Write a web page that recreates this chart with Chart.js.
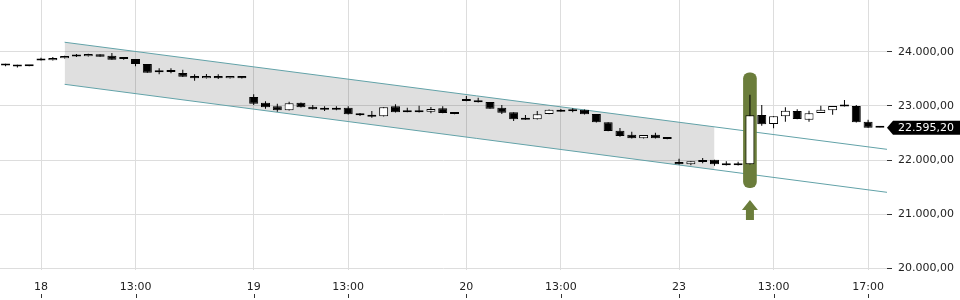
<!DOCTYPE html>
<html>
<head>
<meta charset="utf-8">
<script src="https://cdn.jsdelivr.net/npm/chart.js@4.4.0/dist/chart.umd.min.js"></script>
<style>
  html, body { margin: 0; padding: 0; background: #fff; }
  #wrap { width: 960px; height: 300px; }
</style>
</head>
<body>
<div id="wrap"><canvas id="chart"></canvas></div>
<script>
// half-hour candles, index 0 = 17th 16:30, index 3 = 18th 09:00 ...
const opens  = [23772, 23755, 23735, 23840, 23841, 23878, 23913, 23915, 23952, 23926,
                23866, 23865, 23773, 23656, 23656, 23607, 23551, 23509, 23551, 23509,
                23551, 23163, 23058, 22992, 22918, 23058, 22984, 22955, 22966, 22966,
                22862, 22836, 22807, 22992, 22888, 22918, 22892, 22955, 22854, 23113,
                23102, 23071, 22966, 22881, 22770, 22751, 22849, 22929, 22920, 22929,
                22849, 22696, 22541, 22467, 22401, 22467, 22390, 21963, 21920, 21995,
                22005, 21939, 21902, 21920, 22831, 22665, 22807, 22905, 22744, 22868,
                22918, 22990, 22997, 22707, 22596];
const highs  = [23776, 23757, 23737, 23890, 23902, 23925, 23958, 23962, 23955, 23976,
                23902, 23867, 23775, 23693, 23693, 23668, 23583, 23588, 23583, 23553,
                23553, 23213, 23084, 23040, 23076, 23060, 23016, 22992, 22992, 22992,
                22868, 22905, 22975, 23029, 22966, 23003, 22979, 22992, 22856, 23182,
                23150, 23073, 23016, 22883, 22831, 22905, 22931, 22942, 22955, 22931,
                22851, 22698, 22591, 22522, 22463, 22504, 22392, 22024, 21978, 22037,
                22007, 21976, 21970, 23206, 23016, 22810, 22973, 22936, 22910, 23003,
                22999, 23108, 23016, 22744, 22598];
const lows   = [23732, 23708, 23731, 23838, 23839, 23876, 23902, 23912, 23905, 23850,
                23852, 23730, 23610, 23583, 23601, 23535, 23464, 23507, 23496, 23507,
                23507, 23016, 22947, 22892, 22915, 22970, 22933, 22905, 22918, 22840,
                22812, 22781, 22805, 22878, 22882, 22878, 22862, 22865, 22846, 23087,
                23063, 22945, 22849, 22720, 22742, 22749, 22847, 22890, 22881, 22842,
                22694, 22533, 22430, 22399, 22399, 22399, 22384, 21918, 21902, 21939,
                21894, 21900, 21900, 21918, 22633, 22585, 22707, 22755, 22707, 22866,
                22836, 22988, 22694, 22594, 22593];
const closes = [23745, 23727, 23733, 23843, 23884, 23921, 23917, 23958, 23908, 23852,
                23864, 23773, 23612, 23620, 23625, 23538, 23509, 23551, 23509, 23551,
                23509, 23040, 22973, 22918, 23047, 22973, 22936, 22929, 22929, 22844,
                22825, 22799, 22973, 22881, 22884, 22881, 22942, 22868, 22849, 23089,
                23065, 22947, 22873, 22751, 22744, 22844, 22929, 22892, 22899, 22844,
                22696, 22535, 22443, 22401, 22461, 22401, 22386, 21920, 21976, 21965,
                21920, 21902, 21939, 22825, 22659, 22807, 22910, 22757, 22862, 22929,
                22997, 22994, 22696, 22596, 22595.20];

const xTickIndex  = [3, 11, 21, 29, 39, 47, 57, 65, 73];
const xTickLabels = ['18', '13:00', '19', '13:00', '20', '13:00', '23', '13:00', '17:00'];
const yTicks = [20000, 21000, 22000, 23000, 24000];

// trend channel
const channelX     = [5, 75];
const channelUpper = [24175, 22186];
const channelLower = [23398, 21392];
const shadeX     = [5, 60];
const shadeUpper = [24175, 22613];
const shadeLower = [23398, 21822];

// signal candle + arrow
const signalIndex = 63;
const signalBand  = [21488, 23612];
const arrowLevels = [21261, 21076, 20892]; // tip, head base, stem end

function fmt(v) {
  const parts = v.toFixed(2).split('.');
  return parts[0].replace(/\B(?=(\d{3})+(?!\d))/g, '.') + ',' + parts[1];
}

const idx = opens.map((o, i) => i);
const isUp = opens.map((o, i) => closes[i] >= o);
const lastPrice = closes[closes.length - 1];

const priceTag = {
  id: 'priceTag',
  afterDraw(chart) {
    const { ctx, chartArea, scales: { y } } = chart;
    const py = y.getPixelForValue(lastPrice);
    const x0 = chartArea.right;
    ctx.save();
    ctx.fillStyle = '#000';
    ctx.beginPath();
    ctx.moveTo(x0, py);
    ctx.lineTo(x0 + 6, py - 7);
    ctx.lineTo(chart.width, py - 7);
    ctx.lineTo(chart.width, py + 7);
    ctx.lineTo(x0 + 6, py + 7);
    ctx.closePath();
    ctx.fill();
    ctx.fillStyle = '#fff';
    ctx.font = '11px "DejaVu Sans"';
    ctx.textBaseline = 'middle';
    ctx.fillText(fmt(lastPrice), x0 + 11, py + 0.5);
    ctx.restore();
  }
};

const signalArrow = {
  id: 'signalArrow',
  afterDatasetsDraw(chart) {
    const { ctx, scales: { x, y } } = chart;
    const px = x.getPixelForValue(signalIndex);
    const tip = y.getPixelForValue(arrowLevels[0]);
    const base = y.getPixelForValue(arrowLevels[1]);
    const end = y.getPixelForValue(arrowLevels[2]);
    ctx.save();
    ctx.fillStyle = '#6b7d3b';
    ctx.beginPath();
    ctx.moveTo(px, tip);
    ctx.lineTo(px + 8, base);
    ctx.lineTo(px + 4, base);
    ctx.lineTo(px + 4, end);
    ctx.lineTo(px - 4, end);
    ctx.lineTo(px - 4, base);
    ctx.lineTo(px - 8, base);
    ctx.closePath();
    ctx.fill();
    ctx.restore();
  }
};

// small tick marks under the time labels
const bottomTicks = {
  id: 'bottomTicks',
  afterDraw(chart) {
    const { ctx, scales: { x } } = chart;
    ctx.save();
    ctx.strokeStyle = '#333';
    ctx.lineWidth = 1;
    x.ticks.forEach(t => {
      const px = Math.round(x.getPixelForValue(t.value)) + 0.5;
      ctx.beginPath();
      ctx.moveTo(px, chart.height - 6);
      ctx.lineTo(px, chart.height - 2);
      ctx.stroke();
    });
    ctx.restore();
  }
};

Chart.defaults.font.family = '"DejaVu Sans", sans-serif';
Chart.defaults.font.size = 11;

new Chart(document.getElementById('chart'), {
  type: 'bar',
  data: {
    datasets: [
      {
        type: 'bar',
        data: idx.map(i => ({ x: i, y: [opens[i], closes[i]] })),
        backgroundColor: isUp.map(u => (u ? '#fff' : '#000')),
        borderColor: '#000',
        borderWidth: 1,
        borderSkipped: false,
        barThickness: 9,
        minBarLength: 2,
        inflateAmount: 0,
        grouped: false,
        order: 0
      },
      {
        type: 'bar',
        data: idx.map(i => ({ x: i, y: [lows[i], highs[i]] })),
        backgroundColor: '#000',
        barThickness: 1,
        inflateAmount: 0,
        grouped: false,
        order: 1
      },
      {
        type: 'bar',
        data: [{ x: signalIndex, y: signalBand }],
        backgroundColor: '#6b7d3b',
        borderRadius: 6,
        borderSkipped: false,
        barThickness: 13,
        grouped: false,
        order: 2
      },
      {
        type: 'line',
        data: channelX.map((v, i) => ({ x: v, y: channelUpper[i] })),
        borderColor: '#62a2a8',
        borderWidth: 1,
        pointRadius: 0,
        order: 3
      },
      {
        type: 'line',
        data: channelX.map((v, i) => ({ x: v, y: channelLower[i] })),
        borderColor: '#62a2a8',
        borderWidth: 1,
        pointRadius: 0,
        order: 3
      },
      {
        type: 'line',
        data: shadeX.map((v, i) => ({ x: v, y: shadeUpper[i] })),
        borderWidth: 0,
        pointRadius: 0,
        fill: '+1',
        backgroundColor: 'rgba(0,0,0,0.125)',
        order: 4
      },
      {
        type: 'line',
        data: shadeX.map((v, i) => ({ x: v, y: shadeLower[i] })),
        borderWidth: 0,
        pointRadius: 0,
        order: 4
      }
    ]
  },
  options: {
    responsive: true,
    maintainAspectRatio: false,
    animation: false,
    layout: { padding: 0 },
    plugins: { legend: { display: false }, tooltip: { enabled: false } },
    scales: {
      x: {
        type: 'linear',
        min: -0.47,
        max: 74.6,
        offset: false,
        afterBuildTicks: (scale) => { scale.ticks = xTickIndex.map(v => ({ value: v })); },
        afterFit: (scale) => { scale.height = 30; scale.paddingLeft = 0; scale.paddingRight = 0; },
        grid: { color: '#dddddd', drawTicks: false, offset: false },
        border: { display: false },
        ticks: {
          autoSkip: false,
          maxRotation: 0,
          padding: 11,
          color: '#222',
          callback: (v, i) => xTickLabels[i]
        }
      },
      y: {
        position: 'right',
        min: 19969,
        max: 24955,
        afterBuildTicks: (scale) => { scale.ticks = yTicks.map(v => ({ value: v })); },
        afterFit: (scale) => { scale.width = 73; scale.paddingTop = 0; scale.paddingBottom = 0; },
        grid: { color: '#dddddd', tickColor: '#333', tickLength: 5 },
        border: { display: false },
        ticks: { padding: 6, color: '#222', callback: (v) => fmt(v) }
      }
    }
  },
  plugins: [priceTag, signalArrow, bottomTicks]
});
</script>
</body>
</html>
